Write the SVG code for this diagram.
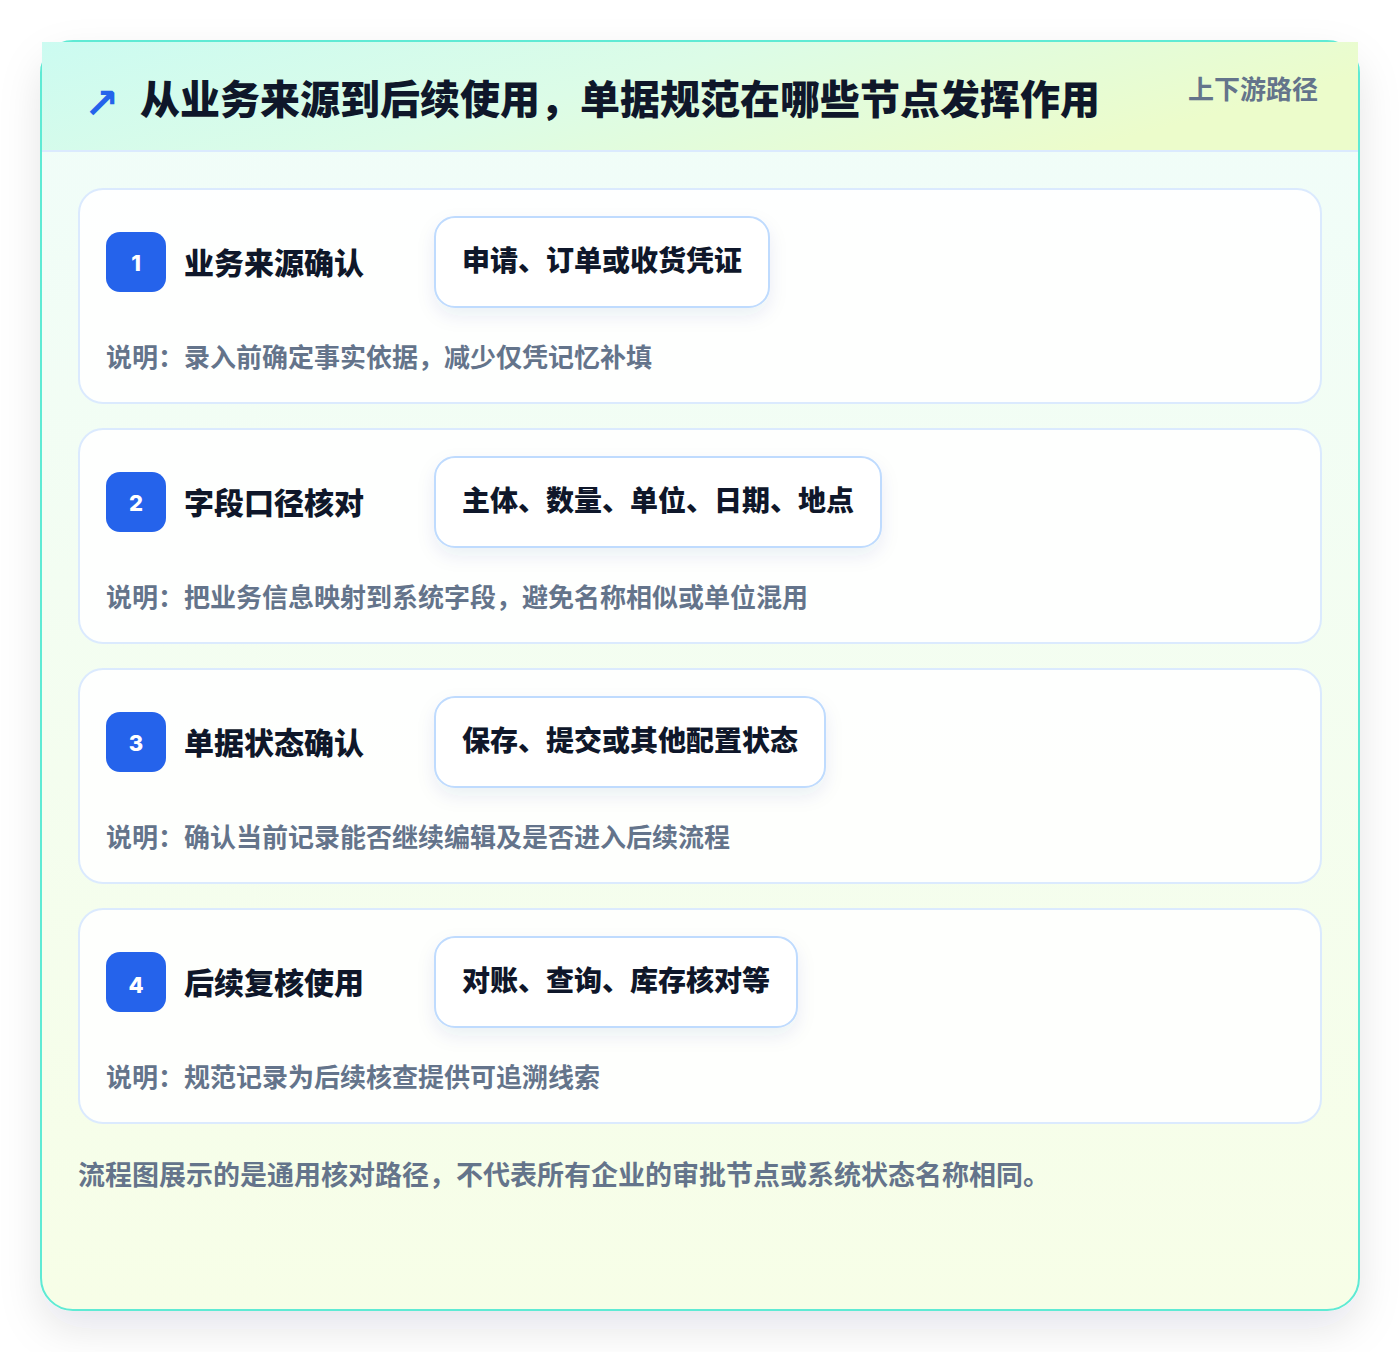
<svg xmlns="http://www.w3.org/2000/svg" width="1400" height="1352" viewBox="0 0 1400 1352">
<style>
.cjk{font-family:"Noto Sans CJK SC","Noto Sans",sans-serif;font-weight:700}
.heavy{font-weight:900}
.title{font-size:40px;fill:#0f172a}
.tag{font-size:26px;fill:#64748b}
.card{fill:#ffffff;fill-opacity:0.88;stroke:#dbeafe;stroke-width:2}
.badge{fill:#2563eb}
.num{font-family:"Inter","Liberation Sans",sans-serif;font-weight:800;font-size:22px;fill:#ffffff}
.ctitle{font-size:30px;fill:#0f172a}
.pill{fill:#ffffff;stroke:#bfdbfe;stroke-width:2}
.ptext{font-size:28px;fill:#0f172a}
.desc{font-size:26px;fill:#64748b}
.foot{font-size:27px;fill:#64748b}
</style>
<defs>
<linearGradient id="bodyG" x1="0" y1="0" x2="0" y2="1">
<stop offset="0" stop-color="#f0fdfa"/>
<stop offset="1" stop-color="#f7fee7"/>
</linearGradient>
<linearGradient id="headG" x1="0" y1="0" x2="1" y2="0.3">
<stop offset="0" stop-color="#ccfbf1"/>
<stop offset="0.5" stop-color="#dcfce7"/>
<stop offset="1" stop-color="#ecfccb"/>
</linearGradient>
<filter id="frameShadow" x="-10%" y="-10%" width="120%" height="125%">
<feDropShadow dx="0" dy="18" stdDeviation="20" flood-color="#0f172a" flood-opacity="0.10"/>
</filter>
<filter id="pillShadow" x="-20%" y="-40%" width="140%" height="200%">
<feDropShadow dx="0" dy="8" stdDeviation="9" flood-color="#1e3a8a" flood-opacity="0.08"/>
</filter>
</defs>
<rect width="1400" height="1352" fill="#ffffff"/>
<g id="frame">
<rect x="41" y="41" width="1318" height="1269" rx="32" fill="url(#bodyG)" stroke="#5eead4" stroke-width="2" filter="url(#frameShadow)"/>
<rect x="42" y="42" width="1316" height="109" fill="url(#headG)"/>
<line x1="42" y1="151" x2="1358" y2="151" stroke="#dbeafe" stroke-width="2"/>
</g>
<g id="header">
<text x="84" y="118" font-family="DejaVu Sans,sans-serif" font-size="42" font-weight="700" fill="#2563eb">↗</text>
<text class="cjk heavy title" x="140" y="114">从业务来源到后续使用，单据规范在哪些节点发挥作用</text>
<text class="cjk tag" x="1188" y="99">上下游路径</text>
</g>
<g id="step1">
<rect class="card" x="79" y="189" width="1242" height="214" rx="24"/>
<rect class="badge" x="106" y="232" width="60" height="60" rx="14"/>
<text class="num" x="136" y="271" text-anchor="middle">1</text>
<text class="cjk heavy ctitle" x="184" y="274">业务来源确认</text>
<rect class="pill" x="435" y="217" width="334" height="90" rx="20" filter="url(#pillShadow)"/>
<text class="cjk heavy ptext" x="462" y="271">申请、订单或收货凭证</text>
<text class="cjk desc" x="106" y="367">说明：录入前确定事实依据，减少仅凭记忆补填</text>
</g>
<g id="step2">
<rect class="card" x="79" y="429" width="1242" height="214" rx="24"/>
<rect class="badge" x="106" y="472" width="60" height="60" rx="14"/>
<text class="num" x="136" y="511" text-anchor="middle">2</text>
<text class="cjk heavy ctitle" x="184" y="514">字段口径核对</text>
<rect class="pill" x="435" y="457" width="446" height="90" rx="20" filter="url(#pillShadow)"/>
<text class="cjk heavy ptext" x="462" y="511">主体、数量、单位、日期、地点</text>
<text class="cjk desc" x="106" y="607">说明：把业务信息映射到系统字段，避免名称相似或单位混用</text>
</g>
<g id="step3">
<rect class="card" x="79" y="669" width="1242" height="214" rx="24"/>
<rect class="badge" x="106" y="712" width="60" height="60" rx="14"/>
<text class="num" x="136" y="751" text-anchor="middle">3</text>
<text class="cjk heavy ctitle" x="184" y="754">单据状态确认</text>
<rect class="pill" x="435" y="697" width="390" height="90" rx="20" filter="url(#pillShadow)"/>
<text class="cjk heavy ptext" x="462" y="751">保存、提交或其他配置状态</text>
<text class="cjk desc" x="106" y="847">说明：确认当前记录能否继续编辑及是否进入后续流程</text>
</g>
<g id="step4">
<rect class="card" x="79" y="909" width="1242" height="214" rx="24"/>
<rect class="badge" x="106" y="952" width="60" height="60" rx="14"/>
<text class="num" x="136" y="993" text-anchor="middle">4</text>
<text class="cjk heavy ctitle" x="184" y="994">后续复核使用</text>
<rect class="pill" x="435" y="937" width="362" height="90" rx="20" filter="url(#pillShadow)"/>
<text class="cjk heavy ptext" x="462" y="991">对账、查询、库存核对等</text>
<text class="cjk desc" x="106" y="1087">说明：规范记录为后续核查提供可追溯线索</text>
</g>
<g id="connectors"></g>
<g id="footer">
<text class="cjk foot" x="78" y="1185">流程图展示的是通用核对路径，不代表所有企业的审批节点或系统状态名称相同。</text>
</g>
</svg>
